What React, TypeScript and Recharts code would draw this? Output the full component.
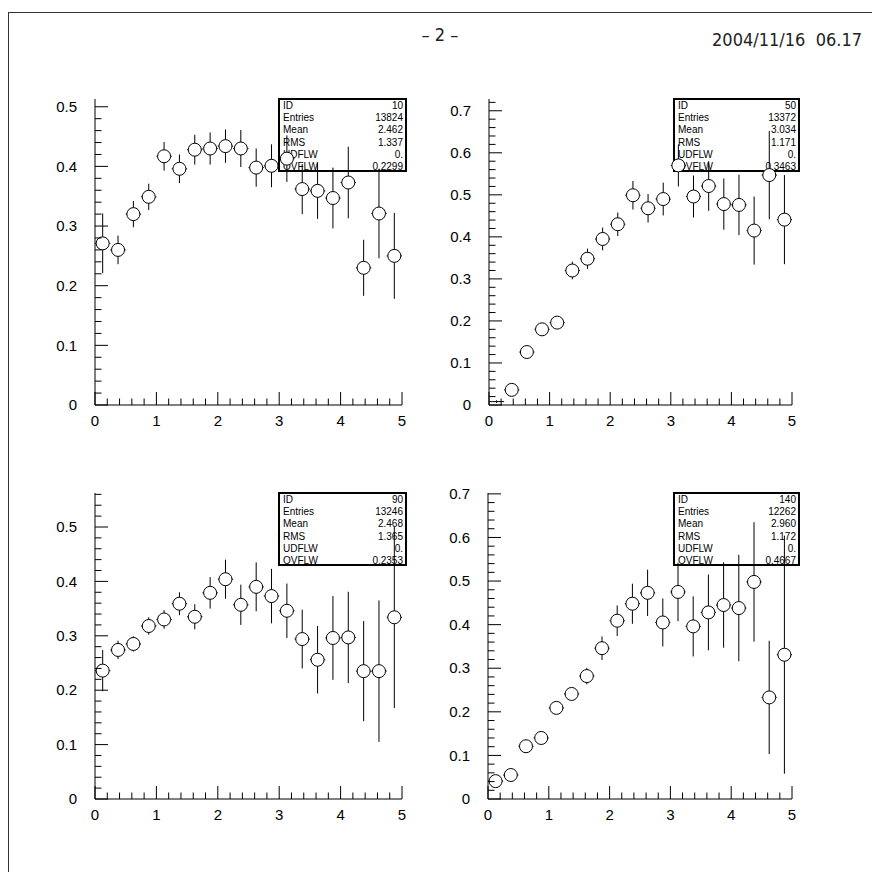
import React from 'react'
import { ScatterChart, Scatter, XAxis, YAxis, ErrorBar } from 'recharts'

// bin centres (20 bins of 0.25 between 0 and 5)
const X_CENTERS = [
  0.125, 0.375, 0.625, 0.875, 1.125, 1.375, 1.625, 1.875, 2.125, 2.375,
  2.625, 2.875, 3.125, 3.375, 3.625, 3.875, 4.125, 4.375, 4.625, 4.875,
]
const BIN_HALF = 0.125

const H10_Y = [0.271, 0.26, 0.32, 0.349, 0.417, 0.396, 0.428, 0.43, 0.434, 0.43, 0.398, 0.401, 0.413, 0.362, 0.359, 0.347, 0.373, 0.23, 0.321, 0.25]
const H10_ERR = [0.05, 0.024, 0.022, 0.022, 0.024, 0.024, 0.025, 0.027, 0.028, 0.031, 0.032, 0.036, 0.039, 0.042, 0.047, 0.051, 0.06, 0.047, 0.075, 0.072]

const H50_Y = [0.008, 0.036, 0.126, 0.18, 0.196, 0.32, 0.348, 0.395, 0.43, 0.499, 0.468, 0.49, 0.57, 0.496, 0.521, 0.478, 0.476, 0.415, 0.547, 0.441]
const H50_ERR = [0.003, 0.008, 0.01, 0.012, 0.012, 0.021, 0.024, 0.027, 0.028, 0.034, 0.034, 0.039, 0.05, 0.05, 0.059, 0.061, 0.072, 0.081, 0.105, 0.106]

const H90_Y = [0.236, 0.274, 0.285, 0.318, 0.33, 0.359, 0.335, 0.379, 0.404, 0.357, 0.39, 0.373, 0.346, 0.294, 0.256, 0.296, 0.297, 0.235, 0.235, 0.334]
const H90_ERR = [0.038, 0.017, 0.014, 0.016, 0.017, 0.021, 0.023, 0.029, 0.036, 0.037, 0.045, 0.05, 0.05, 0.054, 0.062, 0.077, 0.084, 0.092, 0.13, 0.167]

const H140_Y = [0.041, 0.055, 0.121, 0.14, 0.209, 0.241, 0.282, 0.346, 0.409, 0.448, 0.473, 0.405, 0.475, 0.396, 0.428, 0.445, 0.438, 0.498, 0.233, 0.331]
const H140_ERR = [0.008, 0.008, 0.01, 0.01, 0.012, 0.014, 0.019, 0.027, 0.035, 0.046, 0.053, 0.055, 0.067, 0.069, 0.087, 0.098, 0.122, 0.137, 0.13, 0.273]

const STAT_LABELS = ['ID', 'Entries', 'Mean', 'RMS', 'UDFLW', 'OVFLW']
const H10_STATS = ['10', '13824', '2.462', '1.337', '0.', '0.2299']
const H50_STATS = ['50', '13372', '3.034', '1.171', '0.', '0.3463']
const H90_STATS = ['90', '13246', '2.468', '1.365', '0.', '0.2353']
const H140_STATS = ['140', '12262', '2.960', '1.172', '0.', '0.4667']

const X_MAJOR = [0, 1, 2, 3, 4, 5]

const LABEL_FONT = "'Liberation Sans', Arial, sans-serif"
const HEAD_FONT = "'Liberation Sans Narrow', 'DejaVu Sans Condensed', sans-serif"

function steps(top: number, step: number) {
  const out: number[] = []
  for (let i = 0; i * step <= top + 1e-9; i++) out.push(Math.round(i * step * 1000) / 1000)
  return out
}

const X_TICKS = steps(5, 0.2)

function XTick(props: any) {
  const { x, y, payload } = props
  const v = payload.value
  const major = X_MAJOR.some((m) => Math.abs(m - v) < 1e-6)
  return (
    <g>
      <line x1={x} x2={x} y1={y} y2={y - (major ? 13 : 6.5)} stroke="#000" />
      {major && (
        <text x={x} y={y + 21} textAnchor="middle" fontSize={15} fontFamily={LABEL_FONT} fill="#000">
          {String(Math.round(v))}
        </text>
      )}
    </g>
  )
}

function YTick(props: any) {
  const { x, y, payload } = props
  const v = payload.value
  const major = Math.abs(v * 10 - Math.round(v * 10)) < 1e-6
  return (
    <g>
      <line x1={x} x2={x + (major ? 13 : 6.5)} y1={y} y2={y} stroke="#000" />
      {major && (
        <text x={x - 18} y={y} dy="0.35em" textAnchor="end" fontSize={15} fontFamily={LABEL_FONT} fill="#000">
          {v === 0 ? '0' : v.toFixed(1)}
        </text>
      )}
    </g>
  )
}

function Marker(props: any) {
  const { cx, cy, payload } = props
  if (payload.y < 0.01) return <g />
  return <circle cx={cx} cy={cy} r={6.5} fill="#fff" stroke="#000" strokeWidth={1} />
}

interface PanelProps {
  left: number
  top: number
  width: number
  height: number
  yTop: number
  ys: number[]
  errs: number[]
  stats: string[]
  boxLeft: number
}

function Panel({ left, top, width, height, yTop, ys, errs, stats, boxLeft }: PanelProps) {
  const data = X_CENTERS.map((x, i) => ({ x, y: ys[i], ey: errs[i], ex: BIN_HALF }))
  const yTicks = steps(yTop, 0.02)
  const padL = 70
  const padT = 10
  const padR = 10
  const padB = 40
  const boxW = left + width - boxLeft + (boxLeft > 600 ? 3 : 0)
  return (
    <>
      <div
        style={{
          position: 'absolute',
          left: boxLeft,
          top: top - 1,
          width: boxW - 4,
          height: 70,
          border: '2px solid #000',
          background: '#fff',
          fontFamily: LABEL_FONT,
          fontSize: 10,
          lineHeight: '12.2px',
          padding: '0 2px 0 3px',
        }}
      >
        {STAT_LABELS.map((l, i) => (
          <div key={l} style={{ display: 'flex', justifyContent: 'space-between' }}>
            <span>{l}</span>
            <span>{stats[i]}</span>
          </div>
        ))}
      </div>
      <div style={{ position: 'absolute', left: left - padL, top: top - padT }}>
        <ScatterChart
          width={width + padL + padR}
          height={height + padT + padB}
          margin={{ top: padT, right: padR, left: 0, bottom: 0 }}
        >
          <XAxis
            type="number"
            dataKey="x"
            domain={[0, 5]}
            allowDataOverflow
            ticks={X_TICKS}
            interval={0}
            tickSize={0}
            tickMargin={0}
            tickLine={false}
            tick={(p: any) => <XTick {...p} />}
            axisLine={{ stroke: '#000' }}
            height={padB}
          />
          <YAxis
            type="number"
            dataKey="y"
            domain={[0, yTop]}
            allowDataOverflow
            ticks={yTicks}
            interval={0}
            tickSize={0}
            tickMargin={0}
            tickLine={false}
            tick={(p: any) => <YTick {...p} />}
            axisLine={{ stroke: '#000' }}
            width={padL}
          />
          <Scatter data={data} isAnimationActive={false} shape={(p: any) => <Marker {...p} />}>
            <ErrorBar dataKey="ey" direction="y" width={0} stroke="#000" strokeWidth={1} />
            <ErrorBar dataKey="ex" direction="x" width={0} stroke="#000" strokeWidth={1} />
          </Scatter>
        </ScatterChart>
      </div>
    </>
  )
}

export default function App() {
  return (
    <div style={{ position: 'fixed', left: 0, top: 0, width: 872, height: 882, background: '#fff', overflow: 'hidden' }}>
      <div style={{ position: 'absolute', left: 8, top: 12, width: 864, height: 1, background: '#333' }} />
      <div style={{ position: 'absolute', left: 8, top: 12, width: 1, height: 860, background: '#333' }} />
      <div
        style={{
          position: 'absolute',
          left: 400,
          top: 24,
          width: 80,
          textAlign: 'center',
          fontFamily: HEAD_FONT,
          fontSize: 18,
          color: '#222',
        }}
      >
        – 2 –
      </div>
      <div
        style={{
          position: 'absolute',
          right: 10,
          top: 29,
          fontFamily: HEAD_FONT,
          fontSize: 18,
          color: '#222',
          whiteSpace: 'pre',
        }}
      >
        {'2004/11/16  06.17'}
      </div>

      <Panel left={95} top={99} width={307} height={306} yTop={0.513} ys={H10_Y} errs={H10_ERR} stats={H10_STATS} boxLeft={278} />
      <Panel left={489} top={99} width={303} height={306} yTop={0.728} ys={H50_Y} errs={H50_ERR} stats={H50_STATS} boxLeft={673} />
      <Panel left={95} top={493} width={307} height={306} yTop={0.5625} ys={H90_Y} errs={H90_ERR} stats={H90_STATS} boxLeft={278} />
      <Panel left={488} top={493} width={304} height={306} yTop={0.702} ys={H140_Y} errs={H140_ERR} stats={H140_STATS} boxLeft={673} />
    </div>
  )
}
